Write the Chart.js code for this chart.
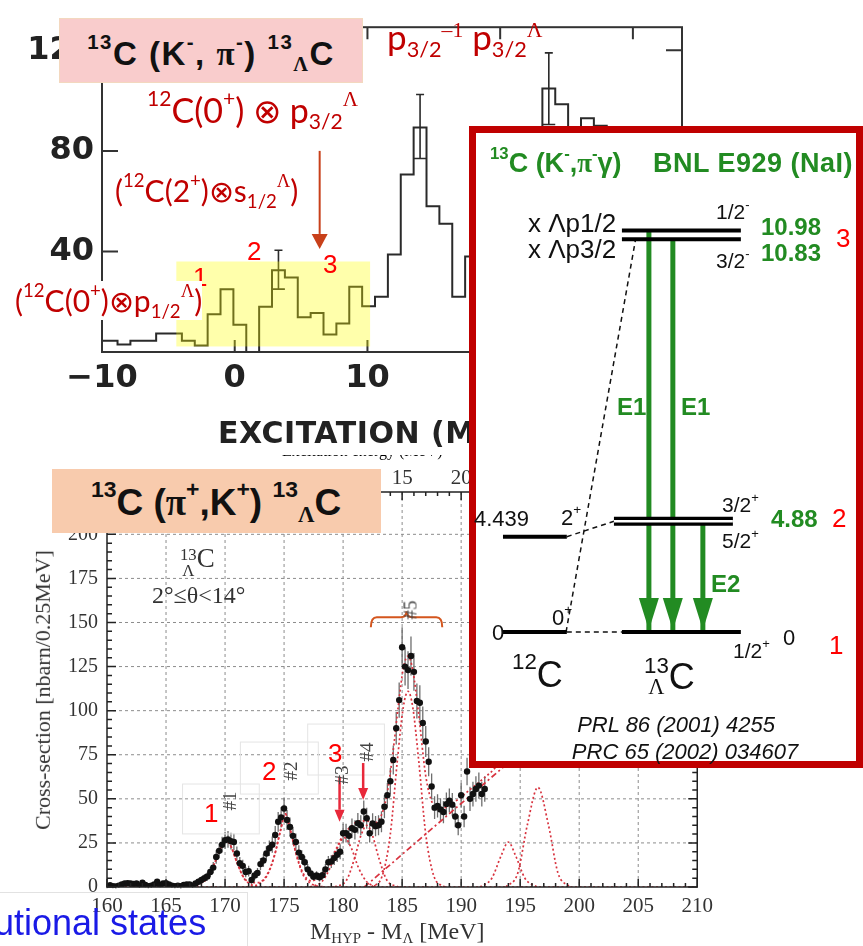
<!DOCTYPE html>
<html>
<head>
<meta charset="utf-8">
<title>13C hypernucleus spectra</title>
<script src="https://cdn.jsdelivr.net/npm/chart.js@4.4.1/dist/chart.umd.min.js"></script>
<style>
  body { margin: 0; background: #fff; }
  #page { position: relative; width: 863px; height: 946px; overflow: hidden; background: #fff; }
  canvas { position: absolute; }
  .t { position: absolute; white-space: nowrap; line-height: 1; }
  .t sup, .t sub { font-size: 0.62em; line-height: 0; position: relative; vertical-align: baseline; }
  .t sup { top: -0.8em; }
  .t sup.lo { top: -0.62em; }
  .t sub { top: 0.3em; }
  .bl { display: inline-block; width: 0; height: 0; vertical-align: baseline; }
  .serif { font-family: 'Liberation Serif', 'DejaVu Serif', serif; }
  .stk { display: inline-flex; flex-direction: column; align-items: center; font-size: 0.62em; line-height: 0.95; }
  .box { position: absolute; box-sizing: border-box; }
</style>
</head>
<body>
<div id="page">
  <canvas id="kChart" width="700" height="448" style="left:0;top:0"></canvas>
  <canvas id="piChart" width="720" height="498" style="left:0;top:448px"></canvas>
  <div class="box" style="left:0;top:892px;width:248px;height:60px;border-top:1px solid #e2e2e2;border-right:1px solid #e2e2e2"></div>
  <div class="box" style="left:59px;top:18px;width:304px;height:65px;background:#f9cccc;border:1px solid #f3d8bf"></div>
  <div class="box" style="left:52px;top:469px;width:329px;height:64px;background:#f8cbad"></div>
  <div class="box" style="left:469px;top:126px;width:394px;height:642px;border:7px solid #c00000;background:#fff"></div>
  <canvas id="levelChart" width="380" height="628" style="left:476px;top:133px"></canvas>
</div>
<script>
// ---- 13C(K-,pi-) 13LC : counts per excitation bin ----
const kBinFirstEdge = -10.77;   // MeV
const kBinWidth = 0.97;         // MeV
const kCounts = [4.5, 4.5, 3.0, 4.5, 4.5, 7.4, 7.4, 4.5, 2.6, 15, 25, 10.8, 0, 18, 32.5, 29.6,
  13.8, 15.5, 7, 11.3, 26, 18.2, 22, 38.8, 70.6, 89.3, 58, 51, 22, 38, 45, 52, 60, 66, 50,
  104.8, 98.6, 55, 93, 90, 62, 48, 42, 36, 30, 26];
const kErrBins = [14, 25, 35];
const kErrLow = [25, 77, 90.5];
const kErrHigh = [40.5, 102.4, 119];
const kXTicks = [-10, 0, 10, 20, 30];
const kYTicks = [40, 80, 120];

// ---- 13C(pi+,K+) 13LC : cross-section per 0.25 MeV ----
const piFirstMass = 160;
const piBinStep = 0.25;
const piCross = [0.5, 1.0, 0.5, 0.3, 0.8, 1.5, 2.0, 2.2, 2.0, 1.8, 2.0, 0.8, 2.5, 1.2, 0.5, 0.8,
  1.5, 3.0, 1.0, 2.0, 2.2, 1.5, 0.8, 0.5, 0.8, 0.4, 1.2, 1.5, 1.5, 0.8, 2.0, 3.0,
  4.0, 5.0, 6.0, 8.5, 11.0, 17.0, 20.5, 24.0, 26.5, 27.0, 26.0, 25.5, 19.0, 13.5, 12.0, 8.5,
  9.0, 4.0, 6.5, 8.0, 13.0, 15.0, 19.0, 22.0, 24.0, 29.5, 37.0, 39.5, 44.5, 38.0, 34.0, 29.0,
  25.5, 19.5, 17.0, 14.0, 10.0, 7.7, 5.8, 6.5, 5.5, 6.7, 10.0, 14.0, 14.5, 16.4, 18.3, 20.0,
  30.5, 30.5, 29.0, 33.3, 32.4, 36.2, 35.0, 42.8, 39.0, 30.5, 36.0, 34.5, 35.0, 37.0, 45.5, 52.0,
  60.0, 72.0, 90.0, 106.0, 136.0, 125.0, 123.0, 131.0, 122.0, 105.5, 104.5, 93.0, 82.5, 71.0, 57.0, 45.0,
  46.0, 44.0, 42.5, 47.0, 49.0, 46.7, 40.0, 35.0, 52.0, 40.0, 65.5, 50.0, 52.7, 55.6, 57.5, 52.7, 55.6];
const piCrossErr = [1.2, 1.2, 1.2, 1.2, 1.2, 1.3, 1.4, 1.4, 1.4, 1.4, 1.4, 1.2, 1.5, 1.3, 1.2, 1.2,
  1.3, 1.6, 1.2, 1.4, 1.4, 1.3, 1.2, 1.2, 1.2, 1.2, 1.3, 1.3, 1.3, 1.2, 1.5, 1.7,
  2.0, 2.2, 2.4, 2.8, 3.2, 3.8, 4.2, 4.5, 4.8, 4.8, 4.7, 4.7, 4.0, 3.5, 3.4, 2.9,
  3.0, 2.1, 2.6, 2.8, 3.5, 3.7, 4.1, 4.4, 4.6, 5.1, 5.6, 5.8, 6.2, 5.7, 5.4, 5.0,
  4.8, 4.2, 3.9, 3.6, 3.1, 2.7, 2.4, 2.5, 2.4, 2.6, 3.1, 3.6, 3.7, 3.9, 4.1, 4.3,
  5.3, 5.3, 5.2, 5.5, 5.5, 5.8, 5.7, 6.3, 6.0, 5.3, 5.8, 5.7, 5.7, 5.9, 6.5, 7.0,
  7.5, 8.2, 9.2, 10.0, 11.3, 10.8, 10.7, 11.0, 10.7, 9.9, 9.9, 9.3, 8.8, 8.2, 7.3, 6.5,
  6.6, 6.4, 6.3, 6.6, 6.8, 6.6, 6.1, 5.7, 7.0, 6.1, 7.8, 6.9, 7.0, 7.2, 7.4, 7.0, 7.2];
const piXTicks = [160, 165, 170, 175, 180, 185, 190, 195, 200, 205, 210];
const piYTicks = [0, 25, 50, 75, 100, 125, 150, 175, 200];
const piTopTicks = [5, 10, 15, 20, 25, 30, 35, 40];   // excitation energy
const piExcOffset = 170;                               // E = M - 170

// fitted peak components
const fit1X = [166.8, 167.8, 168.6, 169.2, 169.7, 170.1, 170.5, 171.0, 171.6, 172.4, 173.2];
const fit1Y = [0, 1.5, 6, 15, 23, 26.5, 23, 14, 5, 0.8, 0];
const fit2X = [171.8, 172.8, 173.6, 174.2, 174.7, 175.1, 175.5, 176.0, 176.6, 177.4, 178.4];
const fit2Y = [0, 1.5, 7, 18, 32, 41.5, 33, 19, 7, 1.5, 0];
const fit3X = [177.2, 178.2, 178.9, 179.5, 180.1, 180.7, 181.3, 182.0, 183.0];
const fit3Y = [0, 3, 11, 22, 28, 22, 11, 3, 0];
const fit4X = [179.3, 180.3, 181.0, 181.5, 182.0, 182.5, 183.0, 183.7, 184.7];
const fit4Y = [0, 4, 17, 29, 35, 29, 17, 4, 0];
const fit5X = [182.4, 183.3, 184.0, 184.6, 185.1, 185.5, 185.9, 186.4, 187.0, 187.7, 188.6];
const fit5Y = [0, 6, 30, 72, 102, 111, 102, 72, 30, 6, 0];
const fit6X = [191.6, 192.6, 193.4, 194.0, 194.6, 195.4, 196.4];
const fit6Y = [0, 5, 18, 25.5, 18, 5, 0];
const fit7X = [193.8, 194.8, 195.6, 196.5, 197.4, 198.2, 199.2];
const fit7Y = [0, 8, 35, 56.5, 35, 8, 0];
const fitBgX = [181.8, 196];
const fitBgY = [0, 82];
const fitZeroX = [160, 210];
const fitZeroY = [0, 0];
const fitSumX = [160, 166.8, 167.8, 168.6, 169.2, 169.7, 170.1, 170.5, 171.0, 171.6, 172.2, 172.8,
  173.6, 174.2, 174.7, 175.1, 175.5, 176.0, 176.6, 177.3, 177.9, 178.6, 179.3, 180.0, 180.7, 181.4,
  182.0, 182.6, 183.2, 183.7, 184.2, 184.7, 185.1, 185.5, 185.9, 186.4, 187.0, 187.6, 188.2, 188.9,
  189.8, 190.8, 191.8, 192.8, 193.8, 194.8];
const fitSumY = [0.3, 0.3, 1.8, 6.2, 15, 23, 26.5, 23, 14, 5.3, 2.5, 2.5, 7.5, 18.3, 32.2, 41.6,
  33.2, 19.5, 8, 3.5, 5, 10.5, 20, 29.5, 34.5, 37.5, 37.5, 36, 40, 52, 75, 104, 124, 131, 123, 98,
  63, 47, 44, 46, 50, 55.5, 61, 67, 76, 88];

// ---- level scheme (MeV) ----
const c12LevelE = [0, 4.439];
const c13LevelE = [0, 10.83, 10.98];
const c13DoubletE = 4.88;
const gammaFromE = [10.98, 10.83, 4.88];
const gammaToE = [0, 0, 0];

const GREEN = '#228b22';
const FIT_RED = '#d8323e';
const SERIF = "'Liberation Serif', 'DejaVu Serif', serif";

const xy = (xs, ys) => xs.map((v, i) => ({ x: v, y: ys[i] }));
const quiet = { responsive: false, animation: false, events: [],
  plugins: { legend: { display: false }, tooltip: { enabled: false } } };

function arrowDown(ctx, px, y0, y1, len, half) {
  ctx.beginPath();
  ctx.moveTo(px, y0); ctx.lineTo(px, y1 - len);
  ctx.stroke();
  ctx.beginPath();
  ctx.moveTo(px, y1); ctx.lineTo(px - half, y1 - len); ctx.lineTo(px + half, y1 - len);
  ctx.closePath(); ctx.fill();
}

// ================= top chart =================
const kHist = kCounts.map((c, i) => ({ x: kBinFirstEdge + i * kBinWidth, y: c }));
kHist.push({ x: kBinFirstEdge + kCounts.length * kBinWidth, y: kCounts[kCounts.length - 1] });

const kDecor = {
  id: 'kDecor',
  afterDatasetsDraw(chart) {
    const { ctx, chartArea: a, scales: { x, y } } = chart;
    ctx.save();
    ctx.strokeStyle = '#2a2a2a';
    ctx.lineWidth = 1.6;
    kErrBins.forEach((b, i) => {
      const lo = kBinFirstEdge + b * kBinWidth;
      const xc = x.getPixelForValue(lo + kBinWidth / 2);
      const yt = y.getPixelForValue(kErrHigh[i]);
      const yb = y.getPixelForValue(kErrLow[i]);
      ctx.beginPath();
      ctx.moveTo(xc, yt); ctx.lineTo(xc, yb);
      ctx.moveTo(xc - 4, yt); ctx.lineTo(xc + 4, yt);
      ctx.moveTo(x.getPixelForValue(lo), yb); ctx.lineTo(x.getPixelForValue(lo + kBinWidth), yb);
      ctx.stroke();
    });
    ctx.lineWidth = 2;
    ctx.strokeStyle = '#333';
    ctx.strokeRect(a.left, a.top, a.width, a.height);
    ctx.beginPath();
    kYTicks.forEach(v => {
      const py = y.getPixelForValue(v);
      ctx.moveTo(a.left, py); ctx.lineTo(a.left + 16, py);
      ctx.moveTo(a.right, py); ctx.lineTo(a.right - 16, py);
    });
    kXTicks.forEach(v => {
      const px = x.getPixelForValue(v);
      ctx.moveTo(px, a.bottom); ctx.lineTo(px, a.bottom - 12);
      ctx.moveTo(px, a.top); ctx.lineTo(px, a.top + 12);
    });
    ctx.stroke();
    // highlighted low-lying region
    const hx0 = x.getPixelForValue(-4.4), hx1 = x.getPixelForValue(10.2);
    const hy0 = y.getPixelForValue(36), hy1 = y.getPixelForValue(2.2);
    ctx.fillStyle = 'rgba(255,255,0,0.33)';
    ctx.fillRect(hx0, hy0, hx1 - hx0, hy1 - hy0);
    // arrow to the p3/2 state
    ctx.strokeStyle = '#c8401a';
    ctx.fillStyle = '#c8401a';
    ctx.lineWidth = 2;
    arrowDown(ctx, x.getPixelForValue(6.4), y.getPixelForValue(80), y.getPixelForValue(41), 15, 8);
    // axis title
    ctx.fillStyle = '#222';
    ctx.font = 'bold 30px "DejaVu Sans"';
    ctx.letterSpacing = '0.5px';
    ctx.textBaseline = 'alphabetic';
    ctx.fillText('EXCITATION (MeV)', 218, 443);
    ctx.restore();
  }
};

new Chart(document.getElementById('kChart'), {
  type: 'scatter',
  data: { datasets: [{ data: kHist, showLine: true, stepped: true, borderColor: '#2a2a2a',
    borderWidth: 2, pointRadius: 0 }] },
  options: Object.assign({}, quiet, {
    layout: { padding: { top: 7, right: 18 } },
    scales: {
      x: { type: 'linear', min: -10, max: 33.7,
        afterFit: s => { s.height = 96; },
        afterBuildTicks: s => { s.ticks = kXTicks.map(v => ({ value: v })); },
        grid: { display: false, drawTicks: false }, border: { display: false },
        ticks: { padding: 7, color: '#222', font: { family: 'DejaVu Sans', size: 32, weight: 'bold' },
          callback: v => (v < 0 ? '\u2212' + Math.abs(v) : String(v)) } },
      y: { min: 0, max: 129.2,
        afterFit: s => { s.width = 102; },
        afterBuildTicks: s => { s.ticks = kYTicks.map(v => ({ value: v })); },
        grid: { display: false, drawTicks: false }, border: { display: false },
        ticks: { padding: 8, color: '#222', font: { family: 'DejaVu Sans', size: 32, weight: 'bold' } } }
    }
  }),
  plugins: [kDecor]
});

// ================= bottom chart =================
const piPoints = piCross.map((v, i) => ({ x: piFirstMass + i * piBinStep, y: v }));

function fitLine(xs, ys, dash) {
  return { data: xy(xs, ys), showLine: true, pointRadius: 0, borderColor: FIT_RED, borderWidth: 1.7,
    borderDash: dash || [2, 2.5], cubicInterpolationMode: 'monotone' };
}

const piDecor = {
  id: 'piDecor',
  beforeDatasetsDraw(chart) {
    const { ctx, chartArea: a, scales: { x, y } } = chart;
    ctx.save();
    ctx.strokeStyle = '#8c8c8c';
    ctx.lineWidth = 1;
    ctx.setLineDash([3, 3]);
    ctx.beginPath();
    piXTicks.slice(1, -1).forEach(v => { const px = x.getPixelForValue(v); ctx.moveTo(px, a.top); ctx.lineTo(px, a.bottom); });
    piYTicks.slice(1).forEach(v => { const py = y.getPixelForValue(v); ctx.moveTo(a.left, py); ctx.lineTo(a.right, py); });
    ctx.stroke();
    ctx.setLineDash([]);
    ctx.strokeStyle = '#6e6e6e';
    ctx.lineWidth = 1.3;
    ctx.beginPath();
    piPoints.forEach((p, i) => {
      const px = x.getPixelForValue(p.x);
      ctx.moveTo(px, y.getPixelForValue(p.y - piCrossErr[i]));
      ctx.lineTo(px, y.getPixelForValue(p.y + piCrossErr[i]));
    });
    ctx.stroke();
    ctx.restore();
  },
  afterDatasetsDraw(chart) {
    const { ctx, chartArea: a, scales: { x, y } } = chart;
    ctx.save();
    ctx.strokeStyle = '#222';
    ctx.lineWidth = 1.5;
    ctx.strokeRect(a.left, a.top, a.width, a.height);
    ctx.beginPath();
    for (let m = 160; m <= 210; m++) {
      const px = x.getPixelForValue(m), len = m % 5 === 0 ? 8 : 4;
      ctx.moveTo(px, a.bottom); ctx.lineTo(px, a.bottom - len);
      ctx.moveTo(px, a.top); ctx.lineTo(px, a.top + len);
    }
    for (let v = 0; v <= 220; v += 5) {
      const py = y.getPixelForValue(v), len = v % 25 === 0 ? 9 : 5;
      ctx.moveTo(a.left, py); ctx.lineTo(a.left + len, py);
      ctx.moveTo(a.right, py); ctx.lineTo(a.right - len, py);
    }
    ctx.stroke();
    // upper axis: excitation energy
    ctx.fillStyle = '#333';
    ctx.font = '21px ' + SERIF;
    ctx.textAlign = 'center';
    ctx.textBaseline = 'middle';
    piTopTicks.forEach(e => ctx.fillText(String(e), x.getPixelForValue(e + piExcOffset), a.top - 14));
    // faint label frames
    ctx.strokeStyle = '#e4e4e4';
    ctx.lineWidth = 1;
    [[166.4, 172.9, 58.4, 30.1], [171.3, 177.9, 82.2, 52.7], [177.0, 183.5, 92.4, 63.5]].forEach(r => {
      const x0 = x.getPixelForValue(r[0]), x1 = x.getPixelForValue(r[1]);
      const y0 = y.getPixelForValue(r[2]), y1 = y.getPixelForValue(r[3]);
      ctx.strokeRect(x0, y0, x1 - x0, y1 - y0);
    });
    // arrows to #3 and #4
    ctx.strokeStyle = '#e8283a';
    ctx.fillStyle = '#e8283a';
    ctx.lineWidth = 2.5;
    arrowDown(ctx, x.getPixelForValue(179.7), y.getPixelForValue(62.6), y.getPixelForValue(37), 12, 5);
    arrowDown(ctx, x.getPixelForValue(181.7), y.getPixelForValue(70.3), y.getPixelForValue(49.3), 12, 5);
    // brace over peak #5
    const bl = x.getPixelForValue(182.35), br = x.getPixelForValue(188.4), bc = x.getPixelForValue(185.37);
    const bm = y.getPixelForValue(153);
    ctx.strokeStyle = '#d4561e';
    ctx.lineWidth = 2;
    ctx.beginPath();
    ctx.moveTo(bl, bm + 10);
    ctx.quadraticCurveTo(bl, bm, bl + 6, bm);
    ctx.lineTo(bc - 6, bm);
    ctx.quadraticCurveTo(bc, bm, bc, bm - 6);
    ctx.quadraticCurveTo(bc, bm, bc + 6, bm);
    ctx.lineTo(br - 6, bm);
    ctx.quadraticCurveTo(br, bm, br, bm + 10);
    ctx.stroke();
    ctx.restore();
  }
};

new Chart(document.getElementById('piChart'), {
  type: 'scatter',
  data: { datasets: [
    { data: piPoints, pointRadius: 3.2, pointBackgroundColor: '#111', pointBorderWidth: 0 },
    fitLine(fitSumX, fitSumY),
    fitLine(fit1X, fit1Y), fitLine(fit2X, fit2Y), fitLine(fit3X, fit3Y), fitLine(fit4X, fit4Y),
    fitLine(fit5X, fit5Y), fitLine(fit6X, fit6Y), fitLine(fit7X, fit7Y),
    fitLine(fitBgX, fitBgY, [6, 3, 2, 3]),
    fitLine(fitZeroX, fitZeroY)
  ] },
  options: Object.assign({}, quiet, {
    layout: { padding: { top: 44, right: 18 } },
    scales: {
      x: { type: 'linear', min: 160, max: 210,
        afterFit: s => { s.height = 59; },
        afterBuildTicks: s => { s.ticks = piXTicks.map(v => ({ value: v })); },
        grid: { display: false, drawTicks: false }, border: { display: false },
        ticks: { padding: 7, color: '#333', font: { family: 'Liberation Serif', size: 21 } } },
      y: { min: 0, max: 224,
        afterFit: s => { s.width = 107; },
        afterBuildTicks: s => { s.ticks = piYTicks.map(v => ({ value: v })); },
        grid: { display: false, drawTicks: false }, border: { display: false },
        ticks: { padding: 9, color: '#333', font: { family: 'Liberation Serif', size: 20 } } }
    }
  }),
  plugins: [piDecor]
});

// ================= level scheme =================
class PowerScale extends Chart.LinearScale {
  _pw(v) { const p = this.options.exponent || 1; return Math.sign(v) * Math.pow(Math.abs(v), p); }
  getPixelForValue(value) {
    const a = this._pw(this.min), b = this._pw(this.max);
    return this.getPixelForDecimal((this._pw(value) - a) / (b - a));
  }
  getValueForPixel(pixel) {
    const p = this.options.exponent || 1;
    const a = this._pw(this.min), b = this._pw(this.max);
    const f = a + this.getDecimalForPixel(pixel) * (b - a);
    return Math.sign(f) * Math.pow(Math.abs(f), 1 / p);
  }
}
PowerScale.id = 'power';
PowerScale.defaults = Chart.LinearScale.defaults;
Chart.register(PowerScale);

const col12 = [0.71, 2.39];
const col13 = [3.84, 6.97];
const doubletCol = [3.63, 6.76];
const gammaX = [4.55, 5.18, 5.97];

function seg(points, color, width, extra) {
  return Object.assign({ data: points, showLine: true, pointRadius: 0, borderColor: color,
    borderWidth: width, borderCapStyle: 'butt' }, extra || {});
}
const levelSets = [];
c12LevelE.forEach(e => levelSets.push(seg([{ x: col12[0], y: e }, { x: col12[1], y: e }], '#000', 4, { order: 1 })));
c13LevelE.forEach(e => levelSets.push(seg([{ x: col13[0], y: e }, { x: col13[1], y: e }], '#000', 4, { order: 1 })));
levelSets.push(seg([{ x: doubletCol[0], y: c13DoubletE }, { x: doubletCol[1], y: c13DoubletE }], '#fff', 2.5, { order: 0 }));
levelSets.push(seg([{ x: doubletCol[0], y: c13DoubletE }, { x: doubletCol[1], y: c13DoubletE }], '#000', 9, { order: 1 }));
gammaFromE.forEach((e, i) => levelSets.push(seg([{ x: gammaX[i], y: e }, { x: gammaX[i], y: gammaToE[i] }], GREEN, 5, { order: 2 })));
[[col12[1], 0, col13[0], 0], [col12[1], c12LevelE[1], doubletCol[0], c13DoubletE], [col12[1] - 0.02, 0, 4.2, 10.83]]
  .forEach(d => levelSets.push(seg([{ x: d[0], y: d[1] }, { x: d[2], y: d[3] }], '#111', 1.5, { borderDash: [5, 4], order: 3 })));

const levelDecor = {
  id: 'levelDecor',
  afterDatasetsDraw(chart) {
    const { ctx, scales: { x, y } } = chart;
    ctx.save();
    ctx.fillStyle = GREEN;
    gammaFromE.forEach((e, i) => {
      const px = x.getPixelForValue(gammaX[i]);
      const tip = y.getPixelForValue(gammaToE[i]) - 2;
      ctx.beginPath();
      ctx.moveTo(px, tip); ctx.lineTo(px - 10, tip - 32); ctx.lineTo(px + 10, tip - 32);
      ctx.closePath(); ctx.fill();
    });
    ctx.restore();
  }
};

new Chart(document.getElementById('levelChart'), {
  type: 'scatter',
  data: { datasets: levelSets },
  options: Object.assign({}, quiet, {
    scales: {
      x: { type: 'linear', min: 0, max: 10, display: false },
      y: { type: 'power', exponent: 1.588, min: -5.37, max: 12.59, display: false }
    }
  }),
  plugins: [levelDecor]
});

// ================= text =================
const page = document.getElementById('page');
function label(html, x, base, style, align) {
  const el = document.createElement('div');
  el.className = 't';
  el.innerHTML = html + '<span class="bl"></span>';
  el.style.cssText += style;
  page.appendChild(el);
  const r = el.getBoundingClientRect();
  const off = el.querySelector('.bl').getBoundingClientRect().top - r.top;
  el.style.left = (align === 'center' ? x - r.width / 2 : align === 'right' ? x - r.width : x) + 'px';
  el.style.top = (base - off) + 'px';
  return el;
}
function turned(html, cx, cy, style) {
  const el = document.createElement('div');
  el.className = 't';
  el.innerHTML = html;
  el.style.cssText += style;
  page.appendChild(el);
  const r = el.getBoundingClientRect();
  el.style.left = (cx - r.width / 2) + 'px';
  el.style.top = (cy - r.height / 2) + 'px';
  el.style.transform = 'rotate(-90deg)';
  return el;
}
const RED = 'color:#c00000;font-family:Lato,"Open Sans",sans-serif;';
const NUM = 'color:#ff0000;font:26px "Liberation Sans",Arial,sans-serif;';
const ARIAL = 'font-family:"Liberation Sans",Arial,sans-serif;';
const LAM = '<span class="serif">\u039b</span>';

// titles
label('<sup>13</sup>C (K<sup>-</sup>, <span class="serif">\u03c0</span><sup>-</sup>) <sup>13</sup><sub class="serif">\u039b</sub>C', 211, 65, ARIAL + 'font-size:33px;font-weight:bold;color:#111;letter-spacing:1.5px', 'center');
label('<sup>13</sup>C (<span class="serif">\u03c0</span><sup>+</sup>,K<sup>+</sup>) <sup>13</sup><sub class="serif">\u039b</sub>C', 216, 515, ARIAL + 'font-size:37px;font-weight:bold;color:#111', 'center');

// top chart annotations
label('<sup>12</sup>C(0<sup>+</sup>) \u2297 p<sub>3/2</sub><sup class="serif">\u039b</sup>', 147, 123, RED + 'font-size:34px');
label('(<sup>12</sup>C(2<sup>+</sup>)\u2297s<sub>1/2</sub><sup class="serif">\u039b</sup>)', 115, 202, RED + 'font-size:30px');
label('1', 193, 286, NUM);
label('2', 247, 260, NUM);
label('3', 323, 273, NUM);
label('(<sup>12</sup>C(0<sup>+</sup>)\u2297p<sub>1/2</sub><sup class="serif">\u039b</sup>)', 15, 312, RED + 'font-size:30px;background:#fff;padding:4px 0 5px 0');
label('p<sub>3/2</sub><sup class="serif lo">\u20131</sup> p<sub>3/2</sub><sup class="serif lo">\u039b</sup>', 387, 50, RED + 'font-size:35px');

// bottom chart annotations
const clip = document.createElement('div');
clip.style.cssText = 'position:absolute;left:270px;top:455px;width:200px;height:9px;overflow:hidden';
clip.innerHTML = '<span style="position:absolute;left:12px;top:-13px;white-space:nowrap;font:24px ' + SERIF.replace(/'/g, '"') + ';color:#555">Excitation energy (MeV)</span>';
page.appendChild(clip);
label('<span class="stk" style="vertical-align:7px"><span>13</span><span>\u039b</span></span>C', 180, 567, 'font:27px ' + SERIF + ';color:#333');
label('2\u00b0\u2264\u03b8&lt;14\u00b0', 152, 603, 'font:24px ' + SERIF + ';color:#333');
turned('#1', 229, 801, 'font:19px ' + SERIF + ';color:#444');
turned('#2', 290, 771, 'font:19px ' + SERIF + ';color:#444');
turned('#3', 341, 775, 'font:19px ' + SERIF + ';color:#444');
turned('#4', 366, 752, 'font:19px ' + SERIF + ';color:#444');
turned('#5', 410, 610, 'font:19px ' + SERIF + ';color:#444');
label('1', 204, 822, NUM);
label('2', 262, 780, NUM);
label('3', 328, 762, NUM);
label('M<sub>HYP</sub> - M<sub>\u039b</sub> [MeV]', 310, 939, 'font:24px ' + SERIF + ';color:#333');
turned('Cross-section [nbarn/0.25MeV]', 43, 690, 'font:22px ' + SERIF + ';color:#333');
label('utional states', -6, 935, ARIAL + 'font-size:36px;color:#1a1ae6');

// level scheme text
const GB = ARIAL + 'font-weight:bold;color:' + GREEN + ';';
const BK = ARIAL + 'color:#111;';
label('<sup>13</sup>C (K<sup>-</sup>,<span class="serif">\u03c0</span><sup>-</sup>\u03b3)', 490, 172, GB + 'font-size:27px');
label('BNL E929 (NaI)', 653, 172, GB + 'font-size:27px;letter-spacing:0.5px');
label('x \u039bp1/2', 528, 232, BK + 'font-size:26px');
label('x \u039bp3/2', 528, 258, BK + 'font-size:26px');
label('1/2<sup>-</sup>', 716, 219, BK + 'font-size:21px');
label('3/2<sup>-</sup>', 716, 268, BK + 'font-size:21px');
label('10.98', 761, 235, GB + 'font-size:24px');
label('10.83', 761, 261, GB + 'font-size:24px');
label('3', 836, 247, NUM);
label('E1', 617, 415, GB + 'font-size:24px');
label('E1', 681, 415, GB + 'font-size:24px');
label('3/2<sup>+</sup>', 722, 512, BK + 'font-size:21px');
label('5/2<sup>+</sup>', 722, 548, BK + 'font-size:21px');
label('4.88', 771, 527, GB + 'font-size:24px');
label('2', 832, 527, NUM);
label('4.439', 474, 526, BK + 'font-size:22px');
label('2<sup>+</sup>', 561, 525, BK + 'font-size:22px');
label('E2', 711, 592, GB + 'font-size:24px');
label('0<sup>+</sup>', 552, 625, BK + 'font-size:22px');
label('0', 492, 640, BK + 'font-size:22px');
label('1/2<sup>+</sup>', 733, 658, BK + 'font-size:21px');
label('0', 783, 645, BK + 'font-size:22px');
label('1', 829, 654, NUM);
label('<sup>12</sup>C', 512, 687, BK + 'font-size:36px');
label('<span class="stk" style="vertical-align:16px"><span>13</span>' + LAM + '</span>C', 644, 689, BK + 'font-size:36px');
label('PRL 86 (2001) 4255', 676, 732, BK + 'font-size:22px;font-style:italic', 'center');
label('PRC 65 (2002) 034607', 685, 759, BK + 'font-size:22px;font-style:italic', 'center');
</script>
</body>
</html>
